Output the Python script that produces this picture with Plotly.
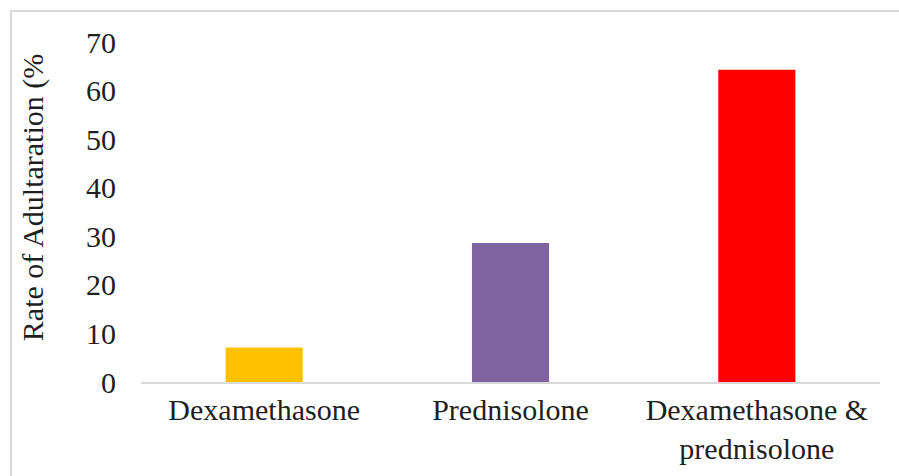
import plotly.graph_objects as go

# Adulteration rate per steroid category (%)
categories = ["Dexamethasone", "Prednisolone", "Dexamethasone &<br>prednisolone"]
rates = [7.1, 28.6, 64.3]
bar_colors = ["#FFC000", "#8064A2", "#FF0000"]
y_ticks = [0, 10, 20, 30, 40, 50, 60, 70]

FONT = "Liberation Serif"
TEXT = "#1f1f1f"
FS = 30

fig = go.Figure(
    go.Bar(
        x=categories,
        y=rates,
        marker=dict(color=bar_colors, line=dict(width=0)),
        width=0.313,
        hoverinfo="x+y",
    )
)

fig.update_layout(
    width=899,
    height=476,
    margin=dict(l=141, r=19, t=42, b=94),
    paper_bgcolor="white",
    plot_bgcolor="white",
    showlegend=False,
    font=dict(family=FONT, size=FS, color=TEXT),
    xaxis=dict(
        showline=True,
        linecolor="#d9d9d9",
        linewidth=2,
        showgrid=False,
        ticks="",
        tickfont=dict(family=FONT, size=FS, color=TEXT),
        fixedrange=True,
    ),
    yaxis=dict(
        range=[0, 70],
        tickvals=y_ticks,
        showgrid=False,
        zeroline=False,
        showline=False,
        ticks="",
        ticklabelstandoff=24,
        tickfont=dict(family=FONT, size=FS, color=TEXT),
        fixedrange=True,
    ),
    annotations=[
        dict(
            text="Rate of Adultaration (%",
            xref="paper",
            yref="paper",
            x=-0.146,
            y=0.541,
            textangle=-90,
            showarrow=False,
            xanchor="center",
            yanchor="middle",
            font=dict(family=FONT, size=FS, color=TEXT),
        )
    ],
    shapes=[
        # chart-area frame (runs off the right and bottom edges)
        dict(
            type="rect",
            xref="paper",
            yref="paper",
            x0=-0.1759,
            x1=1.2,
            y0=-0.6,
            y1=1.0912,
            line=dict(color="#d9d9d9", width=2),
            fillcolor="rgba(0,0,0,0)",
            layer="below",
        )
    ],
)

fig.write_html("out.html")
